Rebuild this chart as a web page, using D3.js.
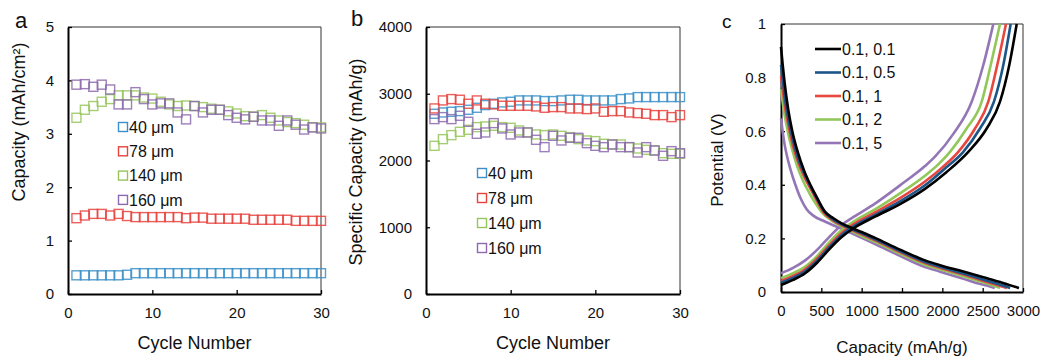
<!DOCTYPE html>
<html><head><meta charset="utf-8">
<script src="https://cdn.jsdelivr.net/npm/d3@7"></script>
<style>
body{margin:0;background:#fff;}
text{font-family:"Liberation Sans",Arial,Helvetica,sans-serif;fill:#111;}
</style></head>
<body><svg id="c" width="1048" height="362"></svg>
<script>
// ---------- DATA ----------
const cycles = [1,2,3,4,5,6,7,8,9,10,11,12,13,14,15,16,17,18,19,20,21,22,23,24,25,26,27,28,29,30];
const seriesNames = ["40 μm","78 μm","140 μm","160 μm"];
// panel a: areal capacity (mAh/cm2)
const a40  = [0.35,0.35,0.35,0.35,0.35,0.35,0.36,0.39,0.39,0.39,0.39,0.39,0.39,0.39,0.39,0.39,0.39,0.39,0.39,0.39,0.39,0.39,0.39,0.39,0.39,0.39,0.39,0.39,0.39,0.39];
const a78  = [1.42,1.47,1.50,1.50,1.47,1.50,1.46,1.44,1.44,1.44,1.44,1.44,1.44,1.42,1.43,1.43,1.41,1.41,1.41,1.41,1.41,1.39,1.39,1.39,1.39,1.39,1.37,1.37,1.37,1.37];
const a140 = [3.30,3.45,3.52,3.60,3.65,3.72,3.72,3.72,3.68,3.66,3.60,3.55,3.52,3.53,3.52,3.50,3.47,3.45,3.42,3.38,3.33,3.32,3.35,3.30,3.25,3.22,3.20,3.17,3.12,3.12];
const a160 = [3.92,3.93,3.88,3.92,3.83,3.55,3.55,3.78,3.65,3.55,3.57,3.57,3.40,3.27,3.52,3.40,3.45,3.45,3.35,3.30,3.27,3.32,3.25,3.25,3.15,3.25,3.17,3.08,3.12,3.10];
// panel b: specific capacity (mAh/g)
const b40  = [2700,2720,2730,2740,2760,2790,2830,2850,2870,2880,2900,2900,2900,2890,2890,2900,2910,2910,2900,2900,2900,2900,2920,2930,2950,2950,2950,2950,2950,2950];
const b78  = [2780,2900,2920,2910,2850,2900,2850,2840,2820,2820,2820,2820,2810,2790,2800,2800,2780,2780,2770,2780,2730,2740,2740,2720,2710,2700,2680,2680,2650,2680];
const b140 = [2220,2320,2380,2430,2460,2500,2510,2520,2500,2490,2450,2420,2390,2380,2390,2370,2350,2320,2300,2290,2250,2240,2240,2200,2180,2160,2150,2110,2100,2100];
const b160 = [2620,2650,2620,2670,2580,2400,2420,2560,2480,2390,2420,2420,2310,2200,2370,2300,2340,2340,2260,2220,2200,2240,2200,2200,2120,2200,2150,2070,2140,2110];
// panel c: voltage profiles, [capacity mAh/g, potential V]
const rateNames = ["0.1, 0.1","0.1, 0.5","0.1, 1","0.1, 2","0.1, 5"];
const dis01 = [[0,0.915],[20,0.85],[45,0.78],[90,0.68],[140,0.6],[210,0.52],[290,0.45],[372,0.395],[450,0.35],[545,0.3],[650,0.275],[752,0.256],[900,0.236],[1000,0.224],[1165,0.202],[1475,0.158],[1785,0.118],[1971,0.1],[2250,0.077],[2508,0.055],[2750,0.034],[2950,0.015]];
const dis05 = [[0,0.847],[20,0.8],[45,0.73],[90,0.645],[140,0.575],[210,0.5],[290,0.44],[372,0.39],[450,0.345],[535,0.3],[640,0.272],[752,0.252],[900,0.231],[1000,0.219],[1165,0.197],[1475,0.153],[1785,0.112],[1971,0.094],[2250,0.07],[2500,0.047],[2700,0.029],[2840,0.015]];
const dis1  = [[0,0.806],[20,0.76],[45,0.7],[90,0.625],[140,0.555],[200,0.495],[280,0.435],[360,0.388],[440,0.343],[525,0.298],[630,0.27],[752,0.249],[900,0.228],[1000,0.215],[1165,0.193],[1475,0.149],[1785,0.108],[1971,0.09],[2250,0.066],[2480,0.044],[2660,0.028],[2800,0.015]];
const dis2  = [[0,0.757],[20,0.71],[45,0.66],[90,0.59],[140,0.53],[200,0.47],[273,0.415],[350,0.37],[430,0.33],[510,0.296],[620,0.268],[752,0.245],[900,0.224],[1000,0.209],[1165,0.187],[1475,0.143],[1785,0.102],[1971,0.085],[2250,0.06],[2450,0.041],[2600,0.027],[2715,0.015]];
const dis5  = [[0,0.648],[20,0.6],[45,0.55],[80,0.5],[120,0.455],[173,0.405],[250,0.345],[320,0.308],[400,0.285],[550,0.262],[752,0.236],[900,0.216],[1000,0.202],[1165,0.179],[1475,0.135],[1785,0.093],[1971,0.076],[2250,0.05],[2420,0.034],[2550,0.024],[2650,0.015]];
const chg01 = [[0,0.026],[150,0.045],[300,0.07],[450,0.11],[600,0.16],[752,0.205],[900,0.238],[1165,0.281],[1475,0.328],[1785,0.385],[2050,0.447],[2322,0.523],[2550,0.61],[2715,0.71],[2830,0.847],[2922,1.0]];
const chg05 = [[0,0.035],[150,0.053],[300,0.078],[450,0.118],[600,0.168],[752,0.213],[900,0.245],[1165,0.288],[1475,0.338],[1785,0.398],[2030,0.46],[2260,0.523],[2467,0.61],[2640,0.71],[2756,0.847],[2847,1.0]];
const chg1  = [[0,0.042],[150,0.06],[300,0.085],[450,0.125],[600,0.175],[752,0.22],[900,0.253],[1165,0.297],[1475,0.35],[1785,0.412],[2000,0.465],[2198,0.523],[2405,0.61],[2570,0.71],[2681,0.847],[2789,1.0]];
const chg2  = [[0,0.052],[150,0.07],[300,0.095],[450,0.135],[600,0.186],[752,0.231],[900,0.263],[1165,0.308],[1475,0.368],[1785,0.434],[1950,0.476],[2095,0.523],[2301,0.61],[2488,0.71],[2600,0.847],[2715,1.0]];
const chg5  = [[0,0.07],[150,0.09],[300,0.118],[450,0.158],[600,0.206],[752,0.25],[900,0.28],[1165,0.33],[1475,0.398],[1785,0.47],[1909,0.505],[2136,0.59],[2364,0.71],[2508,0.847],[2632,1.0]];
const ticksA = [0,1,2,3,4,5];
const ticksB = [0,1000,2000,3000,4000];
const ticksCycle = [0,10,20,30];
const ticksCx = [0,500,1000,1500,2000,2500,3000];
const ticksCy = [0,0.2,0.4,0.6,0.8,1];

// ---------- STYLE ----------
const scatterColors = ["#3a8fc8","#e8423d","#95c55a","#8c68ae"];
const lineColors = ["#000000","#1c5587","#e8473f","#92c75a","#9476b6"];
const svg = d3.select("#c");

function frame(x, y, xt, yt, padY, fmtY){
  const g = svg.append("g");
  const [x0,x1] = x.range(), [y1,y0] = y.range();
  g.append("line").attr("x1",x0).attr("x2",x1).attr("y1",y0).attr("y2",y0).attr("stroke","#333").attr("stroke-width",1);
  g.append("line").attr("x1",x1).attr("x2",x1).attr("y1",y0).attr("y2",y1).attr("stroke","#333").attr("stroke-width",1);
  const ax = g.append("g").attr("transform",`translate(0,${y1})`)
    .call(d3.axisBottom(x).tickValues(xt).tickSizeInner(-4).tickSizeOuter(0).tickPadding(13).tickFormat(d3.format("d")));
  const ay = g.append("g").attr("transform",`translate(${x0},0)`)
    .call(d3.axisLeft(y).tickValues(yt).tickSizeInner(-4).tickSizeOuter(0).tickPadding(padY).tickFormat(fmtY||d3.format("d")));
  [ax,ay].forEach(a=>{
    a.select(".domain").attr("stroke","#000").attr("stroke-width",2);
    a.selectAll(".tick line").attr("stroke","#000").attr("stroke-width",1.3);
    a.selectAll(".tick text").attr("font-size",15).attr("fill","#111")
      .style("font-family","'Liberation Sans',Arial,sans-serif");
  });
  return g;
}

function scatterPanel(x0,x1,yDomain,yt,data,padY,legendX,legendY,legendStep){
  const x = d3.scaleLinear().domain([0,30]).range([x0,x1]);
  const y = d3.scaleLinear().domain(yDomain).range([294,27]);
  frame(x,y,ticksCycle,yt,padY);
  const s = 9;
  data.forEach((vals,i)=>{
    svg.append("g").selectAll("rect").data(vals).join("rect")
      .attr("x",(d,j)=>x(cycles[j])-s/2).attr("y",d=>y(d)-s/2)
      .attr("width",s).attr("height",s).attr("fill","none")
      .attr("stroke",scatterColors[i]).attr("stroke-width",1.4).attr("stroke-opacity",0.85);
  });
  const lg = svg.append("g");
  seriesNames.forEach((n,i)=>{
    const yy = legendY + i*legendStep;
    lg.append("rect").attr("x",legendX-4.5).attr("y",yy-4.5).attr("width",9).attr("height",9)
      .attr("fill","none").attr("stroke",scatterColors[i]).attr("stroke-width",1.4);
    lg.append("text").attr("x",legendX+6).attr("y",yy).attr("dy","0.36em").attr("font-size",16).text(n);
  });
  svg.append("text").attr("x",(x0+x1)/2).attr("y",349).attr("text-anchor","middle").attr("font-size",18).text("Cycle Number");
  return {x,y};
}

// Panel a
scatterPanel(68,321,[0,5],ticksA,[a40,a78,a140,a160],14,123,127,24.3);
svg.append("text").attr("transform","translate(25,122) rotate(-90)").attr("text-anchor","middle")
  .attr("font-size",18).text("Capacity (mAh/cm²)");
svg.append("text").attr("x",15).attr("y",28).attr("font-size",22).text("a");

// Panel b
scatterPanel(426,680,[0,4000],ticksB,[b40,b78,b140,b160],14,482,173,25);
svg.append("text").attr("transform","translate(362,162) rotate(-90)").attr("text-anchor","middle")
  .attr("font-size",18).text("Specific Capacity (mAh/g)");
svg.append("text").attr("x",351).attr("y",26).attr("font-size",22).text("b");

// Panel c
{
  const x = d3.scaleLinear().domain([0,3000]).range([781,1023]);
  const y = d3.scaleLinear().domain([0,1]).range([292,24]);
  frame(x,y,ticksCx,ticksCy,15,d=>d===0||d===1?d3.format("d")(d):d3.format(".1f")(d));
  const line = d3.line().x(d=>x(d[0])).y(d=>y(d[1])).curve(d3.curveMonotoneX);
  const dis = [dis01,dis05,dis1,dis2,dis5], chg = [chg01,chg05,chg1,chg2,chg5];
  const order = [4,3,2,1,0];
  order.forEach(i=>{
    [dis[i],chg[i]].forEach(arr=>{
      svg.append("path").attr("d",line(arr)).attr("fill","none")
        .attr("stroke",lineColors[i]).attr("stroke-width",2.6);
    });
  });
  const lg = svg.append("g");
  rateNames.forEach((n,i)=>{
    const yy = 49 + i*23.5;
    lg.append("line").attr("x1",815).attr("x2",841).attr("y1",yy).attr("y2",yy)
      .attr("stroke",lineColors[i]).attr("stroke-width",2.6);
    lg.append("text").attr("x",842).attr("y",yy).attr("dy","0.36em").attr("font-size",16).text(n);
  });
  svg.append("text").attr("x",902).attr("y",353).attr("text-anchor","middle").attr("font-size",17).text("Capacity (mAh/g)");
  svg.append("text").attr("transform","translate(723,160) rotate(-90)").attr("text-anchor","middle")
    .attr("font-size",17).text("Potential (V)");
  svg.append("text").attr("x",722).attr("y",28).attr("font-size",19).text("c");
}
</script></body></html>
